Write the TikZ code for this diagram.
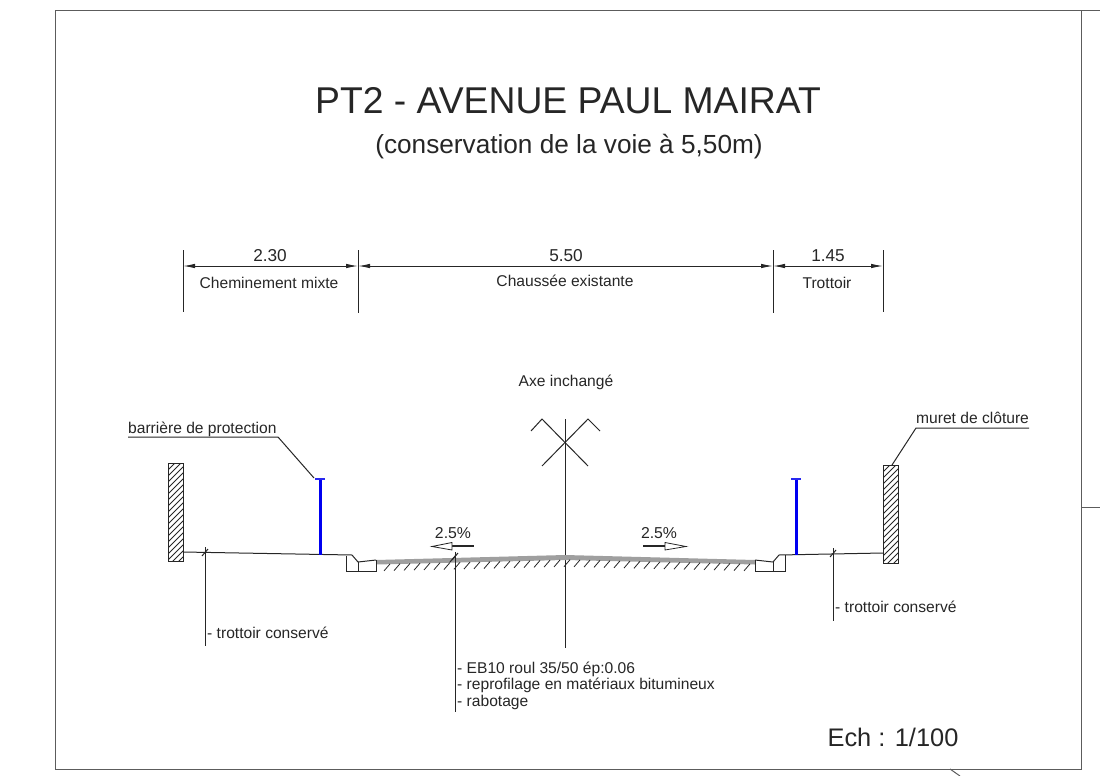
\documentclass[tikz,border=0pt]{standalone}
\usepackage{fontspec}
\setmainfont{Liberation Sans}
\usetikzlibrary{arrows.meta}
\definecolor{ink}{HTML}{262626}
\tikzset{
 x=1pt,y=-1pt,
 frameline/.style={draw=ink!75,line width=1pt},
 thin line/.style={draw=ink,line width=1pt},
 label text/.style={inner sep=0pt,text=ink,font=\fontsize{15.6}{15.6}\selectfont},
 left label/.style={label text,anchor=base west},
 mid label/.style={label text,anchor=base},
 dim text/.style={inner sep=0pt,text=ink,anchor=base,font=\fontsize{17.2}{17}\selectfont},
 dimline/.style={draw=ink,line width=1pt,{Latex[length=12pt,width=4.5pt]}-{Latex[length=12pt,width=4.5pt]}},
 barrier/.style={draw={rgb,255:red,0;green,0;blue,240},line width=3pt},
 bartee/.style={draw={rgb,255:red,40;green,40;blue,240},line width=1.5pt},
 hatchline/.style={draw=ink,line width=0.8pt},
}
\begin{document}
\begin{tikzpicture}
\useasboundingbox (0,0) rectangle (1100,776);
\draw[frameline] (55,769) -- (55,11) -- (1100,11);
\draw[frameline] (55,769) -- (1081,769) -- (1081,11);
\draw[frameline] (1081,507) -- (1100,507);
\draw[frameline] (950,769) -- (960,776);
% titles
\node[inner sep=0pt,anchor=base,text=ink,font=\fontsize{37.3}{37}\selectfont] (title) at (568,113) {PT2 - AVENUE PAUL MAIRAT};
\node[inner sep=0pt,anchor=base,text=ink,font=\fontsize{26.2}{26}\selectfont] (subtitle) at (569,153) {(conservation de la voie à 5,50m)};
\node[inner sep=0pt,anchor=base,text=ink,font=\fontsize{25.4}{25}\selectfont] (scale) at (893,746) {Ech : 1/100};
% dimension ticks
\coordinate (t1) at (183,250); \coordinate (b1) at (183,312);
\coordinate (t2) at (358,250); \coordinate (b2) at (358,313);
\coordinate (t3) at (773,250); \coordinate (b3) at (773,313);
\coordinate (t4) at (883,250); \coordinate (b4) at (883,312);
\foreach \a/\b in {t1/b1,t2/b2,t3/b3,t4/b4} \draw[thin line] (\a) -- (\b);
\coordinate (d1) at (183,266); \coordinate (d2) at (358,266); \coordinate (d3) at (773,266); \coordinate (d4) at (883,266);
\draw[dimline] (d1) -- (d2);
\draw[dimline] (d2) -- (d3);
\draw[dimline] (d3) -- (d4);
\node[dim text] (v1) at (270,261) {2.30};
\node[dim text] (v2) at (566,261) {5.50};
\node[dim text] (v3) at (828,261) {1.45};
\node[mid label] (c1) at (269,288) {Cheminement mixte};
\node[mid label] (c2) at (565,286) {Chaussée existante};
\node[mid label] (c3) at (827,288) {Trottoir};
\node[mid label] (axe) at (566,386) {Axe inchangé};
% axis
\coordinate (axt) at (565,419); \coordinate (axb) at (565,648);
\draw[thin line] (axt) -- (axb);
\draw[thin line] (531,431) -- (542,419) -- (588,466);
\draw[thin line] (600,431) -- (588,419) -- (542,466);
% road surface
\fill[gray!75] (376,560) -- (565,555) -- (755,560) -- (755,564.5) -- (565,560) -- (376,564.5) -- cycle;
\foreach \i in {0,...,36} {
  \pgfmathsetmacro{\hx}{384+\i*10}
  \pgfmathsetmacro{\hy}{571-4.3*(1-abs(\hx-565)/185)}
  \draw[hatchline] (\hx,\hy) -- ++(6,-7);
}
% left wall
\begin{scope}
\clip (168,463) rectangle (183,561);
\foreach \i in {0,...,19} \draw[hatchline] (160,{472+\i*6}) -- ++(30,-30);
\end{scope}
\draw[thin line] (168,463) rectangle (183,561);
% right wall
\begin{scope}
\clip (883,465) rectangle (898,563);
\foreach \i in {0,...,19} \draw[hatchline] (875,{474+\i*6}) -- ++(30,-30);
\end{scope}
\draw[thin line] (883,465) rectangle (898,563);
% sidewalks and kerbs
\draw[thin line] (183,552) -- (352,555) -- (358,562) -- (376,560);
\draw[thin line] (346,556) -- (346,571) -- (376,571) -- (376,560);
\draw[thin line] (358,562) -- (358,571);
\draw[thin line] (883,553) -- (779,555) -- (773,562) -- (755,560);
\draw[thin line] (785,555) -- (785,571) -- (755,571) -- (755,560);
\draw[thin line] (773,562) -- (773,571);
% barriers
\draw[barrier] (320,479) -- (320,555);
\draw[bartee] (315,479) -- (325,479);
\draw[barrier] (796,479) -- (796,555);
\draw[bartee] (791,479) -- (801,479);
% leaders
\draw[thin line] (128,437) -- (278,437) -- (314,478);
\node[left label] (bp) at (128,433) {barrière de protection};
\draw[thin line] (892,465) -- (916,428) -- (1029,428);
\node[left label] (mc) at (916,423) {muret de clôture};
% trottoir conservé
\draw[thin line] (205,547) -- (205,646);
\draw[thin line] (202,556) -- (208,549);
\node[left label] (tl) at (207,638) {- trottoir conservé};
\draw[thin line] (833,548) -- (833,621);
\draw[thin line] (830,557) -- (836,550);
\node[left label] (tr) at (835,612) {- trottoir conservé};
% layer leader
\draw[thin line] (455,552) -- (455,712);
\draw[thin line] (452,560) -- (458,553);
\draw[thin line] (450,562) -- (456,555);
\node[left label] (l1) at (457,673) {- EB10 roul 35/50 ép:0.06};
\node[left label] (l2) at (457,689) {- reprofilage en matériaux bitumineux};
\node[left label] (l3) at (457,706) {- rabotage};
% slopes
\node[mid label,font=\fontsize{15.8}{16}\selectfont] (s1) at (453,538) {2.5\%};
\node[mid label,font=\fontsize{15.8}{16}\selectfont] (s2) at (659,538) {2.5\%};
\draw[draw=ink,line width=1.6pt] (452,546) -- (474,546);
\draw[draw=ink,line width=0.8pt,fill=white] (452,542.5) -- (452,550) -- (432,546.5) -- cycle;
\draw[draw=ink,line width=1.6pt] (643,546) -- (665,546);
\draw[draw=ink,line width=0.8pt,fill=white] (665,542.5) -- (665,550) -- (686,546.5) -- cycle;
\end{tikzpicture}
\end{document}
